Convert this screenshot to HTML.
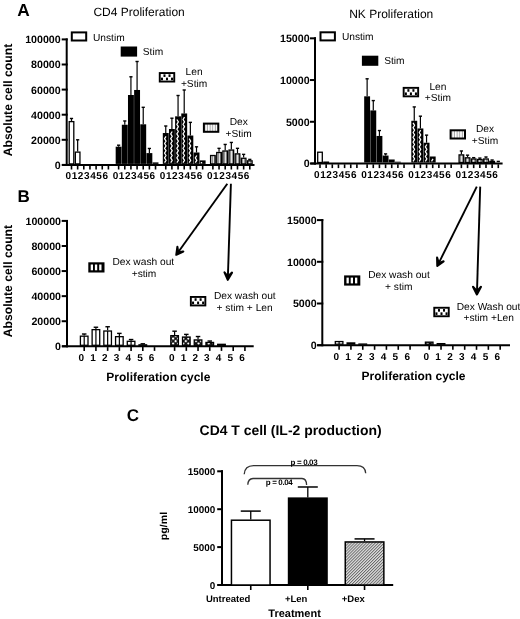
<!DOCTYPE html><html><head><meta charset="utf-8"><style>html,body{margin:0;padding:0;background:#fff;}svg{display:block;will-change:transform;}text{font-family:"Liberation Sans", sans-serif;fill:#000;text-rendering:geometricPrecision;}</style></head><body>
<svg width="520" height="619" viewBox="0 0 520 619">
<defs>
<pattern id="len" patternUnits="userSpaceOnUse" width="3" height="2.6"><rect width="3" height="2.6" fill="#111"/><rect x="0.9" y="0.5" width="1.3" height="1.3" fill="#fff"/></pattern>
<pattern id="dex" patternUnits="userSpaceOnUse" width="2" height="4"><rect width="2" height="4" fill="#e4e4e4"/><rect x="0" width="0.9" height="4" fill="#8a8a8a"/></pattern>
<pattern id="chk" patternUnits="userSpaceOnUse" width="3.6" height="3.6" patternTransform="rotate(45)"><rect width="3.6" height="3.6" fill="#000"/><rect x="0.7" y="0.7" width="2.2" height="2.2" fill="#fff"/></pattern>
<pattern id="vst" patternUnits="userSpaceOnUse" width="4" height="4"><rect width="4" height="4" fill="#fff"/><rect x="1.6" width="1.1" height="4" fill="#000"/></pattern>
<pattern id="hatch" patternUnits="userSpaceOnUse" width="2.1" height="2.1" patternTransform="rotate(45)"><rect width="2.1" height="2.1" fill="#dcdcdc"/><rect width="0.9" height="2.1" fill="#6a6a6a"/></pattern>
</defs>
<rect width="520" height="619" fill="#fff"/>
<text x="17.3" y="16.4" font-size="17.3" font-weight="bold">A</text>
<text x="17.4" y="202" font-size="17" font-weight="bold">B</text>
<text x="126.7" y="421.4" font-size="17" font-weight="bold">C</text>
<text x="93.4" y="16.4" font-size="12">CD4 Proliferation</text>
<text x="349.2" y="17.6" font-size="12">NK Proliferation</text>
<text transform="translate(11.7,100) rotate(-90)" font-size="12.2" font-weight="bold" text-anchor="middle">Absolute cell count</text>
<text transform="translate(11.7,281.1) rotate(-90)" font-size="12.2" font-weight="bold" text-anchor="middle">Absolute cell count</text>
<line x1="66.7" y1="38.4" x2="66.7" y2="165.9" stroke="#000" stroke-width="2"/>
<line x1="61.7" y1="164.9" x2="67.7" y2="164.9" stroke="#000" stroke-width="2"/>
<text x="60.7" y="168.83" font-size="10.65" font-weight="bold" text-anchor="end">0</text>
<line x1="61.7" y1="139.8" x2="67.7" y2="139.8" stroke="#000" stroke-width="2"/>
<text x="60.7" y="143.73" font-size="10.65" font-weight="bold" text-anchor="end">20000</text>
<line x1="61.7" y1="114.7" x2="67.7" y2="114.7" stroke="#000" stroke-width="2"/>
<text x="60.7" y="118.63" font-size="10.65" font-weight="bold" text-anchor="end">40000</text>
<line x1="61.7" y1="89.6" x2="67.7" y2="89.6" stroke="#000" stroke-width="2"/>
<text x="60.7" y="93.53" font-size="10.65" font-weight="bold" text-anchor="end">60000</text>
<line x1="61.7" y1="64.5" x2="67.7" y2="64.5" stroke="#000" stroke-width="2"/>
<text x="60.7" y="68.43" font-size="10.65" font-weight="bold" text-anchor="end">80000</text>
<line x1="61.7" y1="39.4" x2="67.7" y2="39.4" stroke="#000" stroke-width="2"/>
<text x="60.7" y="43.33" font-size="10.65" font-weight="bold" text-anchor="end">100000</text>
<line x1="62.2" y1="164.9" x2="254.5" y2="164.9" stroke="#000" stroke-width="2"/>
<line x1="71.5" y1="118.47" x2="71.5" y2="120.97" stroke="#000" stroke-width="1.2"/>
<line x1="69.9" y1="118.47" x2="73.1" y2="118.47" stroke="#000" stroke-width="1.4"/>
<rect x="69.2" y="121.62" width="4.6" height="42.28" fill="#fff" stroke="#000" stroke-width="1.3"/>
<line x1="71.5" y1="165.7" x2="71.5" y2="169.5" stroke="#000" stroke-width="1.6"/>
<text x="71.1" y="179.3" font-size="10" font-weight="bold" text-anchor="end">0</text>
<line x1="77.65" y1="139.8" x2="77.65" y2="151.47" stroke="#000" stroke-width="1.2"/>
<line x1="76.05" y1="139.8" x2="79.25" y2="139.8" stroke="#000" stroke-width="1.4"/>
<rect x="75.35" y="152.12" width="4.6" height="11.78" fill="#fff" stroke="#000" stroke-width="1.3"/>
<line x1="77.65" y1="165.7" x2="77.65" y2="169.5" stroke="#000" stroke-width="1.6"/>
<text x="77.25" y="179.3" font-size="10" font-weight="bold" text-anchor="end">1</text>
<line x1="83.8" y1="165.7" x2="83.8" y2="169.5" stroke="#000" stroke-width="1.6"/>
<text x="83.4" y="179.3" font-size="10" font-weight="bold" text-anchor="end">2</text>
<line x1="89.95" y1="165.7" x2="89.95" y2="169.5" stroke="#000" stroke-width="1.6"/>
<text x="89.55" y="179.3" font-size="10" font-weight="bold" text-anchor="end">3</text>
<line x1="96.1" y1="165.7" x2="96.1" y2="169.5" stroke="#000" stroke-width="1.6"/>
<text x="95.7" y="179.3" font-size="10" font-weight="bold" text-anchor="end">4</text>
<line x1="102.25" y1="165.7" x2="102.25" y2="169.5" stroke="#000" stroke-width="1.6"/>
<text x="101.85" y="179.3" font-size="10" font-weight="bold" text-anchor="end">5</text>
<line x1="108.4" y1="165.7" x2="108.4" y2="169.5" stroke="#000" stroke-width="1.6"/>
<text x="108" y="179.3" font-size="10" font-weight="bold" text-anchor="end">6</text>
<line x1="118.63" y1="145.2" x2="118.63" y2="146.7" stroke="#000" stroke-width="1.2"/>
<line x1="117.03" y1="145.2" x2="120.23" y2="145.2" stroke="#000" stroke-width="1.4"/>
<rect x="115.68" y="146.7" width="5.9" height="17.2" fill="#000"/>
<line x1="118.63" y1="165.7" x2="118.63" y2="169.5" stroke="#000" stroke-width="1.6"/>
<text x="118.23" y="179.3" font-size="10" font-weight="bold" text-anchor="end">0</text>
<line x1="124.78" y1="120.97" x2="124.78" y2="124.74" stroke="#000" stroke-width="1.2"/>
<line x1="123.18" y1="120.97" x2="126.38" y2="120.97" stroke="#000" stroke-width="1.4"/>
<rect x="121.83" y="124.74" width="5.9" height="39.16" fill="#000"/>
<line x1="124.78" y1="165.7" x2="124.78" y2="169.5" stroke="#000" stroke-width="1.6"/>
<text x="124.38" y="179.3" font-size="10" font-weight="bold" text-anchor="end">1</text>
<line x1="130.93" y1="76.8" x2="130.93" y2="95" stroke="#000" stroke-width="1.2"/>
<line x1="129.33" y1="76.8" x2="132.53" y2="76.8" stroke="#000" stroke-width="1.4"/>
<rect x="127.98" y="95" width="5.9" height="68.9" fill="#000"/>
<line x1="130.93" y1="165.7" x2="130.93" y2="169.5" stroke="#000" stroke-width="1.6"/>
<text x="130.53" y="179.3" font-size="10" font-weight="bold" text-anchor="end">2</text>
<line x1="137.08" y1="61.49" x2="137.08" y2="89.98" stroke="#000" stroke-width="1.2"/>
<line x1="135.48" y1="61.49" x2="138.68" y2="61.49" stroke="#000" stroke-width="1.4"/>
<rect x="134.13" y="89.98" width="5.9" height="73.92" fill="#000"/>
<line x1="137.08" y1="165.7" x2="137.08" y2="169.5" stroke="#000" stroke-width="1.6"/>
<text x="136.68" y="179.3" font-size="10" font-weight="bold" text-anchor="end">3</text>
<line x1="143.23" y1="107.3" x2="143.23" y2="124.3" stroke="#000" stroke-width="1.2"/>
<line x1="141.63" y1="107.3" x2="144.83" y2="107.3" stroke="#000" stroke-width="1.4"/>
<rect x="140.28" y="124.3" width="5.9" height="39.6" fill="#000"/>
<line x1="143.23" y1="165.7" x2="143.23" y2="169.5" stroke="#000" stroke-width="1.6"/>
<text x="142.83" y="179.3" font-size="10" font-weight="bold" text-anchor="end">4</text>
<line x1="149.38" y1="148.46" x2="149.38" y2="153.1" stroke="#000" stroke-width="1.2"/>
<line x1="147.78" y1="148.46" x2="150.98" y2="148.46" stroke="#000" stroke-width="1.4"/>
<rect x="146.43" y="153.1" width="5.9" height="10.8" fill="#000"/>
<line x1="149.38" y1="165.7" x2="149.38" y2="169.5" stroke="#000" stroke-width="1.6"/>
<text x="148.98" y="179.3" font-size="10" font-weight="bold" text-anchor="end">5</text>
<rect x="152.58" y="162.39" width="5.9" height="1.51" fill="#000"/>
<line x1="155.53" y1="165.7" x2="155.53" y2="169.5" stroke="#000" stroke-width="1.6"/>
<text x="155.13" y="179.3" font-size="10" font-weight="bold" text-anchor="end">6</text>
<line x1="165.76" y1="126" x2="165.76" y2="133.02" stroke="#000" stroke-width="1.2"/>
<line x1="164.16" y1="126" x2="167.36" y2="126" stroke="#000" stroke-width="1.4"/>
<rect x="162.81" y="133.02" width="5.9" height="30.88" fill="#000"/>
<polyline points="164.56 162.7 166.06 160.3 164.56 157.9 166.06 155.5 164.56 153.1 166.06 150.7 164.56 148.3 166.06 145.9 164.56 143.5 166.06 141.1 164.56 138.7 166.06 136.3" fill="none" stroke="#fff" stroke-width="1.25" stroke-linejoin="round"/>
<line x1="165.76" y1="165.7" x2="165.76" y2="169.5" stroke="#000" stroke-width="1.6"/>
<text x="165.36" y="179.3" font-size="10" font-weight="bold" text-anchor="end">0</text>
<line x1="171.91" y1="118.21" x2="171.91" y2="129.01" stroke="#000" stroke-width="1.2"/>
<line x1="170.31" y1="118.21" x2="173.51" y2="118.21" stroke="#000" stroke-width="1.4"/>
<rect x="168.96" y="129.01" width="5.9" height="34.89" fill="#000"/>
<polyline points="170.71 162.7 172.21 160.3 170.71 157.9 172.21 155.5 170.71 153.1 172.21 150.7 170.71 148.3 172.21 145.9 170.71 143.5 172.21 141.1 170.71 138.7 172.21 136.3 170.71 133.9 172.21 131.5" fill="none" stroke="#fff" stroke-width="1.25" stroke-linejoin="round"/>
<line x1="171.91" y1="165.7" x2="171.91" y2="169.5" stroke="#000" stroke-width="1.6"/>
<text x="171.51" y="179.3" font-size="10" font-weight="bold" text-anchor="end">1</text>
<line x1="178.06" y1="95.5" x2="178.06" y2="116.33" stroke="#000" stroke-width="1.2"/>
<line x1="176.46" y1="95.5" x2="179.66" y2="95.5" stroke="#000" stroke-width="1.4"/>
<rect x="175.11" y="116.33" width="5.9" height="47.57" fill="#000"/>
<polyline points="176.86 162.7 178.36 160.3 176.86 157.9 178.36 155.5 176.86 153.1 178.36 150.7 176.86 148.3 178.36 145.9 176.86 143.5 178.36 141.1 176.86 138.7 178.36 136.3 176.86 133.9 178.36 131.5 176.86 129.1 178.36 126.7 176.86 124.3 178.36 121.9 176.86 119.5" fill="none" stroke="#fff" stroke-width="1.25" stroke-linejoin="round"/>
<line x1="178.06" y1="165.7" x2="178.06" y2="169.5" stroke="#000" stroke-width="1.6"/>
<text x="177.66" y="179.3" font-size="10" font-weight="bold" text-anchor="end">2</text>
<line x1="184.21" y1="89.98" x2="184.21" y2="113.45" stroke="#000" stroke-width="1.2"/>
<line x1="182.61" y1="89.98" x2="185.81" y2="89.98" stroke="#000" stroke-width="1.4"/>
<rect x="181.26" y="113.45" width="5.9" height="50.45" fill="#000"/>
<polyline points="183.01 162.7 184.51 160.3 183.01 157.9 184.51 155.5 183.01 153.1 184.51 150.7 183.01 148.3 184.51 145.9 183.01 143.5 184.51 141.1 183.01 138.7 184.51 136.3 183.01 133.9 184.51 131.5 183.01 129.1 184.51 126.7 183.01 124.3 184.51 121.9 183.01 119.5 184.51 117.1" fill="none" stroke="#fff" stroke-width="1.25" stroke-linejoin="round"/>
<line x1="184.21" y1="165.7" x2="184.21" y2="169.5" stroke="#000" stroke-width="1.6"/>
<text x="183.81" y="179.3" font-size="10" font-weight="bold" text-anchor="end">3</text>
<line x1="190.36" y1="122.36" x2="190.36" y2="135.53" stroke="#000" stroke-width="1.2"/>
<line x1="188.76" y1="122.36" x2="191.96" y2="122.36" stroke="#000" stroke-width="1.4"/>
<rect x="187.41" y="135.53" width="5.9" height="28.37" fill="#000"/>
<polyline points="189.16 162.7 190.66 160.3 189.16 157.9 190.66 155.5 189.16 153.1 190.66 150.7 189.16 148.3 190.66 145.9 189.16 143.5 190.66 141.1 189.16 138.7" fill="none" stroke="#fff" stroke-width="1.25" stroke-linejoin="round"/>
<line x1="190.36" y1="165.7" x2="190.36" y2="169.5" stroke="#000" stroke-width="1.6"/>
<text x="189.96" y="179.3" font-size="10" font-weight="bold" text-anchor="end">4</text>
<line x1="196.51" y1="146.83" x2="196.51" y2="152.48" stroke="#000" stroke-width="1.2"/>
<line x1="194.91" y1="146.83" x2="198.11" y2="146.83" stroke="#000" stroke-width="1.4"/>
<rect x="193.56" y="152.48" width="5.9" height="11.42" fill="#000"/>
<polyline points="195.31 162.7 196.81 160.3 195.31 157.9 196.81 155.5" fill="none" stroke="#fff" stroke-width="1.25" stroke-linejoin="round"/>
<line x1="196.51" y1="165.7" x2="196.51" y2="169.5" stroke="#000" stroke-width="1.6"/>
<text x="196.11" y="179.3" font-size="10" font-weight="bold" text-anchor="end">5</text>
<rect x="199.71" y="160.38" width="5.9" height="3.52" fill="#000"/>
<rect x="200.76" y="162" width="1.4" height="1.4" fill="#fff"/>
<line x1="202.66" y1="165.7" x2="202.66" y2="169.5" stroke="#000" stroke-width="1.6"/>
<text x="202.26" y="179.3" font-size="10" font-weight="bold" text-anchor="end">6</text>
<rect x="210.59" y="155.51" width="4.6" height="8.39" fill="url(#dex)" stroke="#000" stroke-width="1.3"/>
<line x1="212.89" y1="165.7" x2="212.89" y2="169.5" stroke="#000" stroke-width="1.6"/>
<text x="212.49" y="179.3" font-size="10" font-weight="bold" text-anchor="end">0</text>
<line x1="219.04" y1="148.33" x2="219.04" y2="151.85" stroke="#000" stroke-width="1.2"/>
<line x1="217.44" y1="148.33" x2="220.64" y2="148.33" stroke="#000" stroke-width="1.4"/>
<rect x="216.74" y="152.5" width="4.6" height="11.4" fill="url(#dex)" stroke="#000" stroke-width="1.3"/>
<line x1="219.04" y1="165.7" x2="219.04" y2="169.5" stroke="#000" stroke-width="1.6"/>
<text x="218.64" y="179.3" font-size="10" font-weight="bold" text-anchor="end">1</text>
<line x1="225.19" y1="144.44" x2="225.19" y2="150.34" stroke="#000" stroke-width="1.2"/>
<line x1="223.59" y1="144.44" x2="226.79" y2="144.44" stroke="#000" stroke-width="1.4"/>
<rect x="222.89" y="150.99" width="4.6" height="12.91" fill="url(#dex)" stroke="#000" stroke-width="1.3"/>
<line x1="225.19" y1="165.7" x2="225.19" y2="169.5" stroke="#000" stroke-width="1.6"/>
<text x="224.79" y="179.3" font-size="10" font-weight="bold" text-anchor="end">2</text>
<line x1="231.34" y1="142.44" x2="231.34" y2="149.4" stroke="#000" stroke-width="1.2"/>
<line x1="229.74" y1="142.44" x2="232.94" y2="142.44" stroke="#000" stroke-width="1.4"/>
<rect x="229.04" y="150.05" width="4.6" height="13.85" fill="url(#dex)" stroke="#000" stroke-width="1.3"/>
<line x1="231.34" y1="165.7" x2="231.34" y2="169.5" stroke="#000" stroke-width="1.6"/>
<text x="230.94" y="179.3" font-size="10" font-weight="bold" text-anchor="end">3</text>
<line x1="237.49" y1="148.33" x2="237.49" y2="153.23" stroke="#000" stroke-width="1.2"/>
<line x1="235.89" y1="148.33" x2="239.09" y2="148.33" stroke="#000" stroke-width="1.4"/>
<rect x="235.19" y="153.88" width="4.6" height="10.02" fill="url(#dex)" stroke="#000" stroke-width="1.3"/>
<line x1="237.49" y1="165.7" x2="237.49" y2="169.5" stroke="#000" stroke-width="1.6"/>
<text x="237.09" y="179.3" font-size="10" font-weight="bold" text-anchor="end">4</text>
<line x1="243.64" y1="154.36" x2="243.64" y2="157.62" stroke="#000" stroke-width="1.2"/>
<line x1="242.04" y1="154.36" x2="245.24" y2="154.36" stroke="#000" stroke-width="1.4"/>
<rect x="241.34" y="158.27" width="4.6" height="5.63" fill="url(#dex)" stroke="#000" stroke-width="1.3"/>
<line x1="243.64" y1="165.7" x2="243.64" y2="169.5" stroke="#000" stroke-width="1.6"/>
<text x="243.24" y="179.3" font-size="10" font-weight="bold" text-anchor="end">5</text>
<line x1="249.79" y1="159.38" x2="249.79" y2="160.19" stroke="#000" stroke-width="1.2"/>
<line x1="248.19" y1="159.38" x2="251.39" y2="159.38" stroke="#000" stroke-width="1.4"/>
<rect x="247.49" y="160.84" width="4.6" height="3.06" fill="url(#dex)" stroke="#000" stroke-width="1.3"/>
<line x1="249.79" y1="165.7" x2="249.79" y2="169.5" stroke="#000" stroke-width="1.6"/>
<text x="249.39" y="179.3" font-size="10" font-weight="bold" text-anchor="end">6</text>
<line x1="315" y1="37.33" x2="315" y2="164.5" stroke="#000" stroke-width="2"/>
<line x1="310" y1="163.5" x2="316" y2="163.5" stroke="#000" stroke-width="2"/>
<text x="309.6" y="167.43" font-size="10.65" font-weight="bold" text-anchor="end">0</text>
<line x1="310" y1="121.78" x2="316" y2="121.78" stroke="#000" stroke-width="2"/>
<text x="309.6" y="125.71" font-size="10.65" font-weight="bold" text-anchor="end">5000</text>
<line x1="310" y1="80.05" x2="316" y2="80.05" stroke="#000" stroke-width="2"/>
<text x="309.6" y="83.98" font-size="10.65" font-weight="bold" text-anchor="end">10000</text>
<line x1="310" y1="38.33" x2="316" y2="38.33" stroke="#000" stroke-width="2"/>
<text x="309.6" y="42.26" font-size="10.65" font-weight="bold" text-anchor="end">15000</text>
<line x1="310.5" y1="163.5" x2="502.6" y2="163.5" stroke="#000" stroke-width="2"/>
<rect x="317.7" y="152.22" width="4.6" height="10.28" fill="#fff" stroke="#000" stroke-width="1.3"/>
<line x1="320" y1="164.3" x2="320" y2="168.1" stroke="#000" stroke-width="1.6"/>
<text x="319.6" y="177.9" font-size="10" font-weight="bold" text-anchor="end">0</text>
<rect x="323.85" y="162.15" width="4.6" height="0.35" fill="#fff" stroke="#000" stroke-width="1.3"/>
<line x1="326.15" y1="164.3" x2="326.15" y2="168.1" stroke="#000" stroke-width="1.6"/>
<text x="325.75" y="177.9" font-size="10" font-weight="bold" text-anchor="end">1</text>
<line x1="332.3" y1="164.3" x2="332.3" y2="168.1" stroke="#000" stroke-width="1.6"/>
<text x="331.9" y="177.9" font-size="10" font-weight="bold" text-anchor="end">2</text>
<line x1="338.45" y1="164.3" x2="338.45" y2="168.1" stroke="#000" stroke-width="1.6"/>
<text x="338.05" y="177.9" font-size="10" font-weight="bold" text-anchor="end">3</text>
<line x1="344.6" y1="164.3" x2="344.6" y2="168.1" stroke="#000" stroke-width="1.6"/>
<text x="344.2" y="177.9" font-size="10" font-weight="bold" text-anchor="end">4</text>
<line x1="350.75" y1="164.3" x2="350.75" y2="168.1" stroke="#000" stroke-width="1.6"/>
<text x="350.35" y="177.9" font-size="10" font-weight="bold" text-anchor="end">5</text>
<line x1="356.9" y1="164.3" x2="356.9" y2="168.1" stroke="#000" stroke-width="1.6"/>
<text x="356.5" y="177.9" font-size="10" font-weight="bold" text-anchor="end">6</text>
<line x1="367.13" y1="78.8" x2="367.13" y2="96.32" stroke="#000" stroke-width="1.2"/>
<line x1="365.53" y1="78.8" x2="368.73" y2="78.8" stroke="#000" stroke-width="1.4"/>
<rect x="364.18" y="96.32" width="5.9" height="66.18" fill="#000"/>
<line x1="367.13" y1="164.3" x2="367.13" y2="168.1" stroke="#000" stroke-width="1.6"/>
<text x="366.73" y="177.9" font-size="10" font-weight="bold" text-anchor="end">0</text>
<line x1="373.28" y1="100.58" x2="373.28" y2="110.43" stroke="#000" stroke-width="1.2"/>
<line x1="371.68" y1="100.58" x2="374.88" y2="100.58" stroke="#000" stroke-width="1.4"/>
<rect x="370.33" y="110.43" width="5.9" height="52.07" fill="#000"/>
<line x1="373.28" y1="164.3" x2="373.28" y2="168.1" stroke="#000" stroke-width="1.6"/>
<text x="372.88" y="177.9" font-size="10" font-weight="bold" text-anchor="end">1</text>
<line x1="379.43" y1="130.54" x2="379.43" y2="135.96" stroke="#000" stroke-width="1.2"/>
<line x1="377.83" y1="130.54" x2="381.03" y2="130.54" stroke="#000" stroke-width="1.4"/>
<rect x="376.48" y="135.96" width="5.9" height="26.54" fill="#000"/>
<line x1="379.43" y1="164.3" x2="379.43" y2="168.1" stroke="#000" stroke-width="1.6"/>
<text x="379.03" y="177.9" font-size="10" font-weight="bold" text-anchor="end">2</text>
<line x1="385.58" y1="153.9" x2="385.58" y2="155.57" stroke="#000" stroke-width="1.2"/>
<line x1="383.98" y1="153.9" x2="387.18" y2="153.9" stroke="#000" stroke-width="1.4"/>
<rect x="382.63" y="155.57" width="5.9" height="6.93" fill="#000"/>
<line x1="385.58" y1="164.3" x2="385.58" y2="168.1" stroke="#000" stroke-width="1.6"/>
<text x="385.18" y="177.9" font-size="10" font-weight="bold" text-anchor="end">3</text>
<rect x="388.78" y="159.49" width="5.9" height="3.01" fill="#000"/>
<line x1="391.73" y1="164.3" x2="391.73" y2="168.1" stroke="#000" stroke-width="1.6"/>
<text x="391.33" y="177.9" font-size="10" font-weight="bold" text-anchor="end">4</text>
<rect x="394.93" y="161.71" width="5.9" height="0.79" fill="#000"/>
<line x1="397.88" y1="164.3" x2="397.88" y2="168.1" stroke="#000" stroke-width="1.6"/>
<text x="397.48" y="177.9" font-size="10" font-weight="bold" text-anchor="end">5</text>
<line x1="404.03" y1="164.3" x2="404.03" y2="168.1" stroke="#000" stroke-width="1.6"/>
<text x="403.63" y="177.9" font-size="10" font-weight="bold" text-anchor="end">6</text>
<line x1="414.26" y1="106.92" x2="414.26" y2="120.77" stroke="#000" stroke-width="1.2"/>
<line x1="412.66" y1="106.92" x2="415.86" y2="106.92" stroke="#000" stroke-width="1.4"/>
<rect x="411.31" y="120.77" width="5.9" height="41.73" fill="#000"/>
<polyline points="413.06 161.3 414.56 158.9 413.06 156.5 414.56 154.1 413.06 151.7 414.56 149.3 413.06 146.9 414.56 144.5 413.06 142.1 414.56 139.7 413.06 137.3 414.56 134.9 413.06 132.5 414.56 130.1 413.06 127.7 414.56 125.3 413.06 122.9" fill="none" stroke="#fff" stroke-width="1.25" stroke-linejoin="round"/>
<line x1="414.26" y1="164.3" x2="414.26" y2="168.1" stroke="#000" stroke-width="1.6"/>
<text x="413.86" y="177.9" font-size="10" font-weight="bold" text-anchor="end">0</text>
<line x1="420.41" y1="116.18" x2="420.41" y2="128.45" stroke="#000" stroke-width="1.2"/>
<line x1="418.81" y1="116.18" x2="422.01" y2="116.18" stroke="#000" stroke-width="1.4"/>
<rect x="417.46" y="128.45" width="5.9" height="34.05" fill="#000"/>
<polyline points="419.21 161.3 420.71 158.9 419.21 156.5 420.71 154.1 419.21 151.7 420.71 149.3 419.21 146.9 420.71 144.5 419.21 142.1 420.71 139.7 419.21 137.3 420.71 134.9 419.21 132.5 420.71 130.1" fill="none" stroke="#fff" stroke-width="1.25" stroke-linejoin="round"/>
<line x1="420.41" y1="164.3" x2="420.41" y2="168.1" stroke="#000" stroke-width="1.6"/>
<text x="420.01" y="177.9" font-size="10" font-weight="bold" text-anchor="end">1</text>
<line x1="426.56" y1="135.13" x2="426.56" y2="142.72" stroke="#000" stroke-width="1.2"/>
<line x1="424.96" y1="135.13" x2="428.16" y2="135.13" stroke="#000" stroke-width="1.4"/>
<rect x="423.61" y="142.72" width="5.9" height="19.78" fill="#000"/>
<polyline points="425.36 161.3 426.86 158.9 425.36 156.5 426.86 154.1 425.36 151.7 426.86 149.3 425.36 146.9 426.86 144.5" fill="none" stroke="#fff" stroke-width="1.25" stroke-linejoin="round"/>
<line x1="426.56" y1="164.3" x2="426.56" y2="168.1" stroke="#000" stroke-width="1.6"/>
<text x="426.16" y="177.9" font-size="10" font-weight="bold" text-anchor="end">2</text>
<rect x="429.76" y="156.49" width="5.9" height="6.01" fill="#000"/>
<polyline points="431.51 161.3 433.01 158.9" fill="none" stroke="#fff" stroke-width="1.25" stroke-linejoin="round"/>
<line x1="432.71" y1="164.3" x2="432.71" y2="168.1" stroke="#000" stroke-width="1.6"/>
<text x="432.31" y="177.9" font-size="10" font-weight="bold" text-anchor="end">3</text>
<line x1="438.86" y1="164.3" x2="438.86" y2="168.1" stroke="#000" stroke-width="1.6"/>
<text x="438.46" y="177.9" font-size="10" font-weight="bold" text-anchor="end">4</text>
<line x1="445.01" y1="164.3" x2="445.01" y2="168.1" stroke="#000" stroke-width="1.6"/>
<text x="444.61" y="177.9" font-size="10" font-weight="bold" text-anchor="end">5</text>
<line x1="451.16" y1="164.3" x2="451.16" y2="168.1" stroke="#000" stroke-width="1.6"/>
<text x="450.76" y="177.9" font-size="10" font-weight="bold" text-anchor="end">6</text>
<line x1="461.39" y1="150.98" x2="461.39" y2="154.24" stroke="#000" stroke-width="1.2"/>
<line x1="459.79" y1="150.98" x2="462.99" y2="150.98" stroke="#000" stroke-width="1.4"/>
<rect x="459.09" y="154.89" width="4.6" height="7.61" fill="url(#dex)" stroke="#000" stroke-width="1.3"/>
<line x1="461.39" y1="164.3" x2="461.39" y2="168.1" stroke="#000" stroke-width="1.6"/>
<text x="460.99" y="177.9" font-size="10" font-weight="bold" text-anchor="end">0</text>
<line x1="467.54" y1="155.16" x2="467.54" y2="157.16" stroke="#000" stroke-width="1.2"/>
<line x1="465.94" y1="155.16" x2="469.14" y2="155.16" stroke="#000" stroke-width="1.4"/>
<rect x="465.24" y="157.81" width="4.6" height="4.69" fill="url(#dex)" stroke="#000" stroke-width="1.3"/>
<line x1="467.54" y1="164.3" x2="467.54" y2="168.1" stroke="#000" stroke-width="1.6"/>
<text x="467.14" y="177.9" font-size="10" font-weight="bold" text-anchor="end">1</text>
<line x1="473.69" y1="157.66" x2="473.69" y2="158.33" stroke="#000" stroke-width="1.2"/>
<line x1="472.09" y1="157.66" x2="475.29" y2="157.66" stroke="#000" stroke-width="1.4"/>
<rect x="471.39" y="158.98" width="4.6" height="3.52" fill="url(#dex)" stroke="#000" stroke-width="1.3"/>
<line x1="473.69" y1="164.3" x2="473.69" y2="168.1" stroke="#000" stroke-width="1.6"/>
<text x="473.29" y="177.9" font-size="10" font-weight="bold" text-anchor="end">2</text>
<line x1="479.84" y1="158.08" x2="479.84" y2="158.83" stroke="#000" stroke-width="1.2"/>
<line x1="478.24" y1="158.08" x2="481.44" y2="158.08" stroke="#000" stroke-width="1.4"/>
<rect x="477.54" y="159.48" width="4.6" height="3.02" fill="url(#dex)" stroke="#000" stroke-width="1.3"/>
<line x1="479.84" y1="164.3" x2="479.84" y2="168.1" stroke="#000" stroke-width="1.6"/>
<text x="479.44" y="177.9" font-size="10" font-weight="bold" text-anchor="end">3</text>
<line x1="485.99" y1="156.99" x2="485.99" y2="158.33" stroke="#000" stroke-width="1.2"/>
<line x1="484.39" y1="156.99" x2="487.59" y2="156.99" stroke="#000" stroke-width="1.4"/>
<rect x="483.69" y="158.98" width="4.6" height="3.52" fill="url(#dex)" stroke="#000" stroke-width="1.3"/>
<line x1="485.99" y1="164.3" x2="485.99" y2="168.1" stroke="#000" stroke-width="1.6"/>
<text x="485.59" y="177.9" font-size="10" font-weight="bold" text-anchor="end">4</text>
<line x1="492.14" y1="160" x2="492.14" y2="160.75" stroke="#000" stroke-width="1.2"/>
<line x1="490.54" y1="160" x2="493.74" y2="160" stroke="#000" stroke-width="1.4"/>
<rect x="489.84" y="161.4" width="4.6" height="1.1" fill="url(#dex)" stroke="#000" stroke-width="1.3"/>
<line x1="492.14" y1="164.3" x2="492.14" y2="168.1" stroke="#000" stroke-width="1.6"/>
<text x="491.74" y="177.9" font-size="10" font-weight="bold" text-anchor="end">5</text>
<line x1="498.29" y1="161.41" x2="498.29" y2="161.91" stroke="#000" stroke-width="1.2"/>
<line x1="496.69" y1="161.41" x2="499.89" y2="161.41" stroke="#000" stroke-width="1.4"/>
<rect x="495.99" y="162.56" width="4.6" height="-0.06" fill="url(#dex)" stroke="#000" stroke-width="1.3"/>
<line x1="498.29" y1="164.3" x2="498.29" y2="168.1" stroke="#000" stroke-width="1.6"/>
<text x="497.89" y="177.9" font-size="10" font-weight="bold" text-anchor="end">6</text>
<defs><pattern id="dexl" patternUnits="userSpaceOnUse" width="2.6" height="4"><rect width="2.6" height="4" fill="#fff"/><rect x="1.6" width="0.9" height="4" fill="#999"/></pattern></defs>
<rect x="71.8" y="32.4" width="14.4" height="8.1" fill="#fff" stroke="#000" stroke-width="2"/>
<text x="93" y="40.6" font-size="10.2">Unstim</text>
<rect x="120.7" y="46.5" width="16.4" height="10.1" fill="#000"/>
<text x="142.8" y="54.8" font-size="10.2">Stim</text>
<rect x="158.8" y="72.1" width="16.4" height="10.4" fill="#000"/>
<rect x="160.7" y="74" width="12.6" height="6.6" fill="#fff"/>
<rect x="163.47" y="74.35" width="2.02" height="2.6" fill="#000"/>
<rect x="168.51" y="74.35" width="2.02" height="2.6" fill="#000"/>
<rect x="160.95" y="77.65" width="2.02" height="2.6" fill="#000"/>
<rect x="165.99" y="77.65" width="2.02" height="2.6" fill="#000"/>
<rect x="171.03" y="77.65" width="2.02" height="2.6" fill="#000"/>
<text x="194.1" y="74.6" font-size="10.2" text-anchor="middle">Len</text>
<text x="194.1" y="86.5" font-size="10.2" text-anchor="middle">+Stim</text>
<rect x="203.9" y="123.6" width="14.4" height="8.2" fill="url(#dexl)" stroke="#000" stroke-width="2"/>
<text x="238.7" y="125.4" font-size="10.2" text-anchor="middle">Dex</text>
<text x="238.7" y="137.3" font-size="10.2" text-anchor="middle">+Stim</text>
<rect x="320.5" y="32.3" width="14.4" height="8.1" fill="#fff" stroke="#000" stroke-width="2"/>
<text x="341.9" y="39.8" font-size="10.2">Unstim</text>
<rect x="361.9" y="55.7" width="16.4" height="10.1" fill="#000"/>
<text x="384.2" y="63.6" font-size="10.2">Stim</text>
<rect x="402.7" y="86.9" width="16.4" height="10.4" fill="#000"/>
<rect x="404.6" y="88.8" width="12.6" height="6.6" fill="#fff"/>
<rect x="407.37" y="89.15" width="2.02" height="2.6" fill="#000"/>
<rect x="412.41" y="89.15" width="2.02" height="2.6" fill="#000"/>
<rect x="404.85" y="92.45" width="2.02" height="2.6" fill="#000"/>
<rect x="409.89" y="92.45" width="2.02" height="2.6" fill="#000"/>
<rect x="414.93" y="92.45" width="2.02" height="2.6" fill="#000"/>
<text x="437.9" y="89.8" font-size="10.2" text-anchor="middle">Len</text>
<text x="437.9" y="101.4" font-size="10.2" text-anchor="middle">+Stim</text>
<rect x="450.6" y="130.3" width="14.4" height="8.2" fill="url(#dexl)" stroke="#000" stroke-width="2"/>
<text x="485" y="132.3" font-size="10.2" text-anchor="middle">Dex</text>
<text x="485" y="143.9" font-size="10.2" text-anchor="middle">+Stim</text>
<line x1="67" y1="219.9" x2="67" y2="347.3" stroke="#000" stroke-width="2"/>
<line x1="61.7" y1="346.3" x2="68" y2="346.3" stroke="#000" stroke-width="2"/>
<text x="61" y="350.23" font-size="10.65" font-weight="bold" text-anchor="end">0</text>
<line x1="61.7" y1="321.22" x2="68" y2="321.22" stroke="#000" stroke-width="2"/>
<text x="61" y="325.15" font-size="10.65" font-weight="bold" text-anchor="end">20000</text>
<line x1="61.7" y1="296.14" x2="68" y2="296.14" stroke="#000" stroke-width="2"/>
<text x="61" y="300.07" font-size="10.65" font-weight="bold" text-anchor="end">40000</text>
<line x1="61.7" y1="271.06" x2="68" y2="271.06" stroke="#000" stroke-width="2"/>
<text x="61" y="274.99" font-size="10.65" font-weight="bold" text-anchor="end">60000</text>
<line x1="61.7" y1="245.98" x2="68" y2="245.98" stroke="#000" stroke-width="2"/>
<text x="61" y="249.91" font-size="10.65" font-weight="bold" text-anchor="end">80000</text>
<line x1="61.7" y1="220.9" x2="68" y2="220.9" stroke="#000" stroke-width="2"/>
<text x="61" y="224.83" font-size="10.65" font-weight="bold" text-anchor="end">100000</text>
<line x1="62" y1="346.3" x2="253.7" y2="346.3" stroke="#000" stroke-width="2"/>
<line x1="84.2" y1="334.01" x2="84.2" y2="335.52" stroke="#000" stroke-width="1.2"/>
<line x1="81.95" y1="334.01" x2="86.45" y2="334.01" stroke="#000" stroke-width="1.4"/>
<rect x="80.4" y="336.17" width="7.6" height="9.13" fill="#fff" stroke="#000" stroke-width="1.3"/>
<rect x="83.6" y="336.17" width="1.2" height="9.13" fill="#000"/>
<line x1="84.2" y1="347.1" x2="84.2" y2="350.9" stroke="#000" stroke-width="1.6"/>
<text x="84.1" y="361" font-size="10" font-weight="bold" text-anchor="end">0</text>
<line x1="95.92" y1="327.24" x2="95.92" y2="328.99" stroke="#000" stroke-width="1.2"/>
<line x1="93.67" y1="327.24" x2="98.17" y2="327.24" stroke="#000" stroke-width="1.4"/>
<rect x="92.12" y="329.64" width="7.6" height="15.66" fill="#fff" stroke="#000" stroke-width="1.3"/>
<rect x="95.32" y="329.64" width="1.2" height="15.66" fill="#000"/>
<line x1="95.92" y1="347.1" x2="95.92" y2="350.9" stroke="#000" stroke-width="1.6"/>
<text x="95.82" y="361" font-size="10" font-weight="bold" text-anchor="end">1</text>
<line x1="107.64" y1="326.74" x2="107.64" y2="330.37" stroke="#000" stroke-width="1.2"/>
<line x1="105.39" y1="326.74" x2="109.89" y2="326.74" stroke="#000" stroke-width="1.4"/>
<rect x="103.84" y="331.02" width="7.6" height="14.28" fill="#fff" stroke="#000" stroke-width="1.3"/>
<rect x="107.04" y="331.02" width="1.2" height="14.28" fill="#000"/>
<line x1="107.64" y1="347.1" x2="107.64" y2="350.9" stroke="#000" stroke-width="1.6"/>
<text x="107.54" y="361" font-size="10" font-weight="bold" text-anchor="end">2</text>
<line x1="119.36" y1="333.38" x2="119.36" y2="336.02" stroke="#000" stroke-width="1.2"/>
<line x1="117.11" y1="333.38" x2="121.61" y2="333.38" stroke="#000" stroke-width="1.4"/>
<rect x="115.56" y="336.67" width="7.6" height="8.63" fill="#fff" stroke="#000" stroke-width="1.3"/>
<rect x="118.76" y="336.67" width="1.2" height="8.63" fill="#000"/>
<line x1="119.36" y1="347.1" x2="119.36" y2="350.9" stroke="#000" stroke-width="1.6"/>
<text x="119.26" y="361" font-size="10" font-weight="bold" text-anchor="end">3</text>
<line x1="131.08" y1="339.53" x2="131.08" y2="340.66" stroke="#000" stroke-width="1.2"/>
<line x1="128.83" y1="339.53" x2="133.33" y2="339.53" stroke="#000" stroke-width="1.4"/>
<rect x="127.28" y="341.31" width="7.6" height="3.99" fill="#fff" stroke="#000" stroke-width="1.3"/>
<rect x="130.48" y="341.31" width="1.2" height="3.99" fill="#000"/>
<line x1="131.08" y1="347.1" x2="131.08" y2="350.9" stroke="#000" stroke-width="1.6"/>
<text x="130.98" y="361" font-size="10" font-weight="bold" text-anchor="end">4</text>
<line x1="142.8" y1="343.79" x2="142.8" y2="344.17" stroke="#000" stroke-width="1.2"/>
<line x1="140.55" y1="343.79" x2="145.05" y2="343.79" stroke="#000" stroke-width="1.4"/>
<rect x="139" y="344.82" width="7.6" height="0.48" fill="#fff" stroke="#000" stroke-width="1.3"/>
<rect x="142.2" y="344.82" width="1.2" height="0.48" fill="#000"/>
<line x1="142.8" y1="347.1" x2="142.8" y2="350.9" stroke="#000" stroke-width="1.6"/>
<text x="142.7" y="361" font-size="10" font-weight="bold" text-anchor="end">5</text>
<line x1="154.52" y1="347.1" x2="154.52" y2="350.9" stroke="#000" stroke-width="1.6"/>
<text x="154.42" y="361" font-size="10" font-weight="bold" text-anchor="end">6</text>
<line x1="174.6" y1="331.19" x2="174.6" y2="335.01" stroke="#000" stroke-width="1.2"/>
<line x1="172.35" y1="331.19" x2="176.85" y2="331.19" stroke="#000" stroke-width="1.4"/>
<rect x="170.8" y="335.66" width="7.6" height="9.64" fill="url(#chk)" stroke="#000" stroke-width="1.3"/>
<line x1="174.6" y1="347.1" x2="174.6" y2="350.9" stroke="#000" stroke-width="1.6"/>
<text x="174.5" y="361" font-size="10" font-weight="bold" text-anchor="end">0</text>
<line x1="186.32" y1="334.39" x2="186.32" y2="336.39" stroke="#000" stroke-width="1.2"/>
<line x1="184.07" y1="334.39" x2="188.57" y2="334.39" stroke="#000" stroke-width="1.4"/>
<rect x="182.52" y="337.04" width="7.6" height="8.26" fill="url(#chk)" stroke="#000" stroke-width="1.3"/>
<line x1="186.32" y1="347.1" x2="186.32" y2="350.9" stroke="#000" stroke-width="1.6"/>
<text x="186.22" y="361" font-size="10" font-weight="bold" text-anchor="end">1</text>
<line x1="198.04" y1="336.52" x2="198.04" y2="339.28" stroke="#000" stroke-width="1.2"/>
<line x1="195.79" y1="336.52" x2="200.29" y2="336.52" stroke="#000" stroke-width="1.4"/>
<rect x="194.24" y="339.93" width="7.6" height="5.37" fill="url(#chk)" stroke="#000" stroke-width="1.3"/>
<line x1="198.04" y1="347.1" x2="198.04" y2="350.9" stroke="#000" stroke-width="1.6"/>
<text x="197.94" y="361" font-size="10" font-weight="bold" text-anchor="end">2</text>
<line x1="209.76" y1="341.03" x2="209.76" y2="341.79" stroke="#000" stroke-width="1.2"/>
<line x1="207.51" y1="341.03" x2="212.01" y2="341.03" stroke="#000" stroke-width="1.4"/>
<rect x="205.96" y="342.44" width="7.6" height="2.86" fill="url(#chk)" stroke="#000" stroke-width="1.3"/>
<line x1="209.76" y1="347.1" x2="209.76" y2="350.9" stroke="#000" stroke-width="1.6"/>
<text x="209.66" y="361" font-size="10" font-weight="bold" text-anchor="end">3</text>
<rect x="217.68" y="344.32" width="7.6" height="0.98" fill="url(#chk)" stroke="#000" stroke-width="1.3"/>
<line x1="221.48" y1="347.1" x2="221.48" y2="350.9" stroke="#000" stroke-width="1.6"/>
<text x="221.38" y="361" font-size="10" font-weight="bold" text-anchor="end">4</text>
<rect x="229.4" y="345.7" width="7.6" height="-0.4" fill="url(#chk)" stroke="#000" stroke-width="1.3"/>
<line x1="233.2" y1="347.1" x2="233.2" y2="350.9" stroke="#000" stroke-width="1.6"/>
<text x="233.1" y="361" font-size="10" font-weight="bold" text-anchor="end">5</text>
<line x1="244.92" y1="347.1" x2="244.92" y2="350.9" stroke="#000" stroke-width="1.6"/>
<text x="244.82" y="361" font-size="10" font-weight="bold" text-anchor="end">6</text>
<line x1="322.3" y1="219.1" x2="322.3" y2="346.2" stroke="#000" stroke-width="2"/>
<line x1="317" y1="345.2" x2="323.3" y2="345.2" stroke="#000" stroke-width="2"/>
<text x="316.6" y="349.13" font-size="10.65" font-weight="bold" text-anchor="end">0</text>
<line x1="317" y1="303.5" x2="323.3" y2="303.5" stroke="#000" stroke-width="2"/>
<text x="316.6" y="307.43" font-size="10.65" font-weight="bold" text-anchor="end">5000</text>
<line x1="317" y1="261.8" x2="323.3" y2="261.8" stroke="#000" stroke-width="2"/>
<text x="316.6" y="265.73" font-size="10.65" font-weight="bold" text-anchor="end">10000</text>
<line x1="317" y1="220.1" x2="323.3" y2="220.1" stroke="#000" stroke-width="2"/>
<text x="316.6" y="224.03" font-size="10.65" font-weight="bold" text-anchor="end">15000</text>
<line x1="317.3" y1="345.2" x2="510" y2="345.2" stroke="#000" stroke-width="2"/>
<rect x="335.3" y="341.55" width="7.6" height="2.65" fill="#fff" stroke="#000" stroke-width="1.3"/>
<rect x="338.5" y="341.55" width="1.2" height="2.65" fill="#000"/>
<line x1="339.1" y1="346" x2="339.1" y2="349.8" stroke="#000" stroke-width="1.6"/>
<text x="339" y="359.9" font-size="10" font-weight="bold" text-anchor="end">0</text>
<rect x="347.13" y="342.93" width="7.6" height="1.27" fill="#fff" stroke="#000" stroke-width="1.3"/>
<rect x="350.33" y="342.93" width="1.2" height="1.27" fill="#000"/>
<line x1="350.93" y1="346" x2="350.93" y2="349.8" stroke="#000" stroke-width="1.6"/>
<text x="350.83" y="359.9" font-size="10" font-weight="bold" text-anchor="end">1</text>
<rect x="358.96" y="344.06" width="7.6" height="0.14" fill="#fff" stroke="#000" stroke-width="1.3"/>
<rect x="362.16" y="344.06" width="1.2" height="0.14" fill="#000"/>
<line x1="362.76" y1="346" x2="362.76" y2="349.8" stroke="#000" stroke-width="1.6"/>
<text x="362.66" y="359.9" font-size="10" font-weight="bold" text-anchor="end">2</text>
<line x1="374.59" y1="346" x2="374.59" y2="349.8" stroke="#000" stroke-width="1.6"/>
<text x="374.49" y="359.9" font-size="10" font-weight="bold" text-anchor="end">3</text>
<line x1="386.42" y1="346" x2="386.42" y2="349.8" stroke="#000" stroke-width="1.6"/>
<text x="386.32" y="359.9" font-size="10" font-weight="bold" text-anchor="end">4</text>
<line x1="398.25" y1="346" x2="398.25" y2="349.8" stroke="#000" stroke-width="1.6"/>
<text x="398.15" y="359.9" font-size="10" font-weight="bold" text-anchor="end">5</text>
<line x1="410.08" y1="346" x2="410.08" y2="349.8" stroke="#000" stroke-width="1.6"/>
<text x="409.98" y="359.9" font-size="10" font-weight="bold" text-anchor="end">6</text>
<rect x="425.4" y="342.14" width="7.6" height="2.06" fill="url(#chk)" stroke="#000" stroke-width="1.3"/>
<line x1="429.2" y1="346" x2="429.2" y2="349.8" stroke="#000" stroke-width="1.6"/>
<text x="429.1" y="359.9" font-size="10" font-weight="bold" text-anchor="end">0</text>
<rect x="437.23" y="343.64" width="7.6" height="0.56" fill="url(#chk)" stroke="#000" stroke-width="1.3"/>
<line x1="441.03" y1="346" x2="441.03" y2="349.8" stroke="#000" stroke-width="1.6"/>
<text x="440.93" y="359.9" font-size="10" font-weight="bold" text-anchor="end">1</text>
<rect x="449.06" y="344.35" width="7.6" height="-0.15" fill="url(#chk)" stroke="#000" stroke-width="1.3"/>
<line x1="452.86" y1="346" x2="452.86" y2="349.8" stroke="#000" stroke-width="1.6"/>
<text x="452.76" y="359.9" font-size="10" font-weight="bold" text-anchor="end">2</text>
<line x1="464.69" y1="346" x2="464.69" y2="349.8" stroke="#000" stroke-width="1.6"/>
<text x="464.59" y="359.9" font-size="10" font-weight="bold" text-anchor="end">3</text>
<line x1="476.52" y1="346" x2="476.52" y2="349.8" stroke="#000" stroke-width="1.6"/>
<text x="476.42" y="359.9" font-size="10" font-weight="bold" text-anchor="end">4</text>
<line x1="488.35" y1="346" x2="488.35" y2="349.8" stroke="#000" stroke-width="1.6"/>
<text x="488.25" y="359.9" font-size="10" font-weight="bold" text-anchor="end">5</text>
<line x1="500.18" y1="346" x2="500.18" y2="349.8" stroke="#000" stroke-width="1.6"/>
<text x="500.08" y="359.9" font-size="10" font-weight="bold" text-anchor="end">6</text>
<text x="106.3" y="381" font-size="12" font-weight="bold">Proliferation cycle</text>
<text x="361.5" y="380" font-size="12" font-weight="bold">Proliferation cycle</text>
<rect x="88.3" y="262.3" width="16.2" height="10.2" fill="#000"/>
<rect x="90.7" y="264.5" width="2.3" height="5.8" fill="#fff"/>
<rect x="94.9" y="264.5" width="2.3" height="5.8" fill="#fff"/>
<rect x="99.2" y="264.5" width="2.3" height="5.8" fill="#fff"/>
<text x="143.3" y="265" font-size="10.2" text-anchor="middle">Dex wash out</text>
<text x="144" y="277.2" font-size="10.2" text-anchor="middle">+stim</text>
<rect x="189.9" y="296" width="16.4" height="10.4" fill="#000"/>
<rect x="191.8" y="297.9" width="12.6" height="6.6" fill="#fff"/>
<rect x="194.57" y="298.25" width="2.02" height="2.6" fill="#000"/>
<rect x="199.61" y="298.25" width="2.02" height="2.6" fill="#000"/>
<rect x="192.05" y="301.55" width="2.02" height="2.6" fill="#000"/>
<rect x="197.09" y="301.55" width="2.02" height="2.6" fill="#000"/>
<rect x="202.13" y="301.55" width="2.02" height="2.6" fill="#000"/>
<text x="244.8" y="298.8" font-size="10.2" text-anchor="middle">Dex wash out</text>
<text x="244.6" y="310.8" font-size="10.2" text-anchor="middle">+ stim + Len</text>
<rect x="344.1" y="275.4" width="16.2" height="10.2" fill="#000"/>
<rect x="346.5" y="277.6" width="2.3" height="5.8" fill="#fff"/>
<rect x="350.7" y="277.6" width="2.3" height="5.8" fill="#fff"/>
<rect x="355" y="277.6" width="2.3" height="5.8" fill="#fff"/>
<text x="399" y="277.8" font-size="10.2" text-anchor="middle">Dex wash out</text>
<text x="398.8" y="289.7" font-size="10.2" text-anchor="middle">+ stim</text>
<rect x="433.3" y="306.8" width="16.4" height="10.4" fill="#000"/>
<rect x="435.2" y="308.7" width="12.6" height="6.6" fill="#fff"/>
<rect x="437.97" y="309.05" width="2.02" height="2.6" fill="#000"/>
<rect x="443.01" y="309.05" width="2.02" height="2.6" fill="#000"/>
<rect x="435.45" y="312.35" width="2.02" height="2.6" fill="#000"/>
<rect x="440.49" y="312.35" width="2.02" height="2.6" fill="#000"/>
<rect x="445.53" y="312.35" width="2.02" height="2.6" fill="#000"/>
<text x="488.5" y="309.6" font-size="10.2" text-anchor="middle">Dex Wash out</text>
<text x="488.7" y="321.2" font-size="10.2" text-anchor="middle">+stim +Len</text>
<path d="M227.3 183.8L176.88 253.99" stroke="#000" stroke-width="1.9" fill="none"/>
<path d="M177.4 246.9L176.3 254.8L183.3 251.5L178.17 252.2Z" stroke="#000" stroke-width="2.1" fill="#000" stroke-linejoin="round"/>
<path d="M230.9 183.8L227.83 278.8" stroke="#000" stroke-width="1.9" fill="none"/>
<path d="M224.5 272.4L227.8 279.8L232 272.6L227.9 276.6Z" stroke="#000" stroke-width="2.1" fill="#000" stroke-linejoin="round"/>
<path d="M476.8 186.6L437.75 265.1" stroke="#000" stroke-width="1.9" fill="none"/>
<path d="M437.1 257.6L437.3 266L443.6 261.3L438.73 263.13Z" stroke="#000" stroke-width="2.1" fill="#000" stroke-linejoin="round"/>
<path d="M480.2 186.6L476.93 293.4" stroke="#000" stroke-width="1.9" fill="none"/>
<path d="M473 286.8L476.9 294.4L481 286.8L477 291.2Z" stroke="#000" stroke-width="2.1" fill="#000" stroke-linejoin="round"/>
<text x="199.6" y="435.4" font-size="13.95" font-weight="bold">CD4 T cell (IL-2 production)</text>
<line x1="222" y1="470.3" x2="222" y2="586" stroke="#000" stroke-width="2"/>
<line x1="217.2" y1="585" x2="223" y2="585" stroke="#000" stroke-width="2"/>
<text x="215.3" y="588.66" font-size="9.9" font-weight="bold" text-anchor="end">0</text>
<line x1="217.2" y1="547.1" x2="223" y2="547.1" stroke="#000" stroke-width="2"/>
<text x="215.3" y="550.76" font-size="9.9" font-weight="bold" text-anchor="end">5000</text>
<line x1="217.2" y1="509.2" x2="223" y2="509.2" stroke="#000" stroke-width="2"/>
<text x="215.3" y="512.86" font-size="9.9" font-weight="bold" text-anchor="end">10000</text>
<line x1="217.2" y1="471.3" x2="223" y2="471.3" stroke="#000" stroke-width="2"/>
<text x="215.3" y="474.96" font-size="9.9" font-weight="bold" text-anchor="end">15000</text>
<line x1="217.6" y1="585" x2="393.2" y2="585" stroke="#000" stroke-width="2"/>
<line x1="250.75" y1="511.1" x2="250.75" y2="519.51" stroke="#000" stroke-width="1.3"/>
<line x1="240.75" y1="511.1" x2="260.75" y2="511.1" stroke="#000" stroke-width="1.5"/>
<rect x="231.45" y="520.21" width="38.6" height="64.79" fill="#fff" stroke="#000" stroke-width="1.5"/>
<line x1="250.75" y1="585.8" x2="250.75" y2="590" stroke="#000" stroke-width="1.6"/>
<line x1="307.8" y1="486.99" x2="307.8" y2="497.38" stroke="#000" stroke-width="1.3"/>
<line x1="297.8" y1="486.99" x2="317.8" y2="486.99" stroke="#000" stroke-width="1.5"/>
<rect x="287.8" y="497.38" width="40" height="87.62" fill="#000"/>
<line x1="307.8" y1="585.8" x2="307.8" y2="590" stroke="#000" stroke-width="1.6"/>
<line x1="364.55" y1="538.91" x2="364.55" y2="541.26" stroke="#000" stroke-width="1.3"/>
<line x1="354.55" y1="538.91" x2="374.55" y2="538.91" stroke="#000" stroke-width="1.5"/>
<rect x="345.25" y="541.96" width="38.6" height="43.04" fill="url(#hatch)" stroke="#000" stroke-width="1.5"/>
<line x1="364.55" y1="585.8" x2="364.55" y2="590" stroke="#000" stroke-width="1.6"/>
<text x="250.3" y="601.8" font-size="9.5" font-weight="bold" text-anchor="end">Untreated</text>
<text x="307.4" y="601.6" font-size="9.5" font-weight="bold" text-anchor="end">+Len</text>
<text x="364.8" y="601.6" font-size="9.5" font-weight="bold" text-anchor="end">+Dex</text>
<text x="268.3" y="616.9" font-size="11" font-weight="bold">Treatment</text>
<text transform="translate(167.4,526) rotate(-90)" font-size="10" font-weight="bold" text-anchor="middle" textLength="28.4" lengthAdjust="spacingAndGlyphs">pg/ml</text>
<path d="M244.2 474.2 C244.6 468.5 248 465.8 253.5 465.7 L357 465.7 C362 465.8 365.4 468.5 365.7 473.2" stroke="#333" stroke-width="1.3" fill="none"/>
<path d="M247.8 484.8 C248 480.6 250 478.6 253 478.5 L302 478.5 C305 478.6 306.5 480.6 306.6 484.9" stroke="#333" stroke-width="1.3" fill="none"/>
<text x="279.3" y="485.3" font-size="8" font-weight="bold" text-anchor="middle" textLength="27" lengthAdjust="spacing">p = 0.04</text>
<text x="304.1" y="464.8" font-size="8" font-weight="bold" text-anchor="middle" textLength="27" lengthAdjust="spacing">p = 0.03</text>
</svg></body></html>
